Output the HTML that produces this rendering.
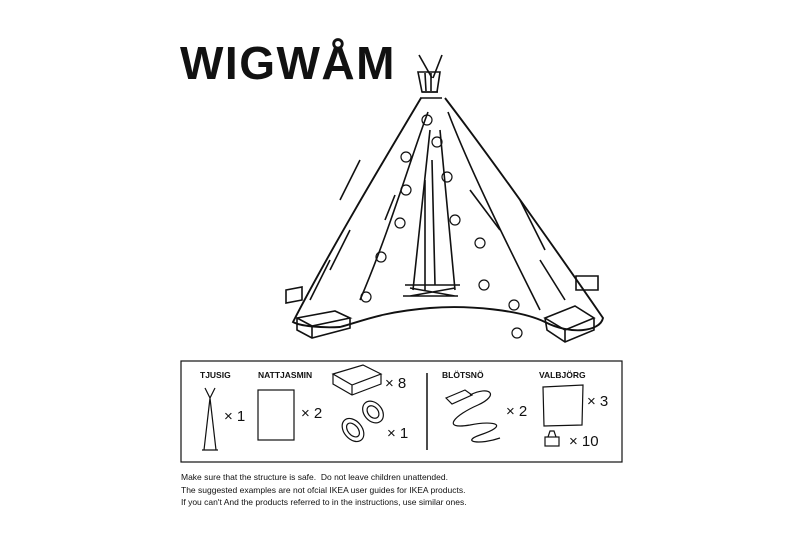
<!DOCTYPE html>
<html><head><style>
body{margin:0;background:#fff;width:800px;height:533px;overflow:hidden;position:relative;font-family:"Liberation Sans",sans-serif;}
.t{position:absolute;color:#111;}
</style></head><body>
<div class="t" style="left:180px;top:36px;font-size:46px;font-weight:bold;letter-spacing:1.5px;">WIGWÅM</div>
<svg width="800" height="533" style="position:absolute;left:0;top:0" fill="none" stroke="#111" stroke-width="1.6">
<line x1="419" y1="55" x2="432" y2="78"/><line x1="442" y1="55" x2="433" y2="78"/>
<path d="M418 72 L440 72 L437 92 L422 92 Z M425 73 L426 91 M431 73 L431 91"/>
<path d="M422 92 L438 92 M420 98 L442 98"/>
<path d="M421 98 C390 150 330 250 293 322 C300 326 320 328 340 327 C360 322 380 312 430 308 C470 305 520 310 545 322 C570 335 600 332 603 318 C570 270 500 170 445 98" stroke-width="1.9"/>
<path d="M428 112 C410 160 390 230 360 300"/>
<path d="M448 112 C470 170 510 250 540 310"/>
<path d="M430 130 L413 290 M440 130 L455 290"/>
<path d="M425 180 L425 290 M432 160 L435 285"/>
<path d="M405 285 L460 285 M403 296 L458 296 M410 288 L455 296 M455 288 L410 296"/>
<path d="M330 270 L350 230 M340 200 L360 160 M520 200 L545 250 M540 260 L565 300 M470 190 L500 230 M310 300 L330 260 M385 220 L395 195"/>
<g stroke-width="1.2">
<circle cx="427" cy="120" r="5"/><circle cx="406" cy="157" r="5"/><circle cx="437" cy="142" r="5"/><circle cx="406" cy="190" r="5"/><circle cx="447" cy="177" r="5"/><circle cx="400" cy="223" r="5"/><circle cx="455" cy="220" r="5"/><circle cx="381" cy="257" r="5"/><circle cx="480" cy="243" r="5"/><circle cx="366" cy="297" r="5"/><circle cx="484" cy="285" r="5"/><circle cx="514" cy="305" r="5"/><circle cx="517" cy="333" r="5"/>
</g>
<path d="M297 318 L335 311 L350 318 L312 326 Z M297 318 L297 330 L312 338 L350 328 L350 318 M312 326 L312 338"/>
<path d="M286 290 L302 287 L302 300 L286 303 Z"/>
<path d="M545 318 L575 306 L594 318 L565 330 Z M545 318 L547 330 L565 342 L594 330 L594 318 M565 330 L565 342"/>
<path d="M576 276 L598 276 L598 290 L576 290 Z"/>
<rect x="181" y="361" width="441" height="101" stroke-width="1.2"/>
<line x1="427" y1="373" x2="427" y2="450" stroke-width="1.5"/>
<path d="M205 388 L210 398 L215 388 M210 398 L204 450 M210 398 L216 450 M202 450 L218 450" stroke-width="1.2"/>
<rect x="258" y="390" width="36" height="50" stroke-width="1.2"/>
<path d="M333 374 L363 365 L381 374 L352 385 Z M333 374 L333 384 L352 395 L381 384 L381 374 M352 385 L352 395" stroke-width="1.2"/>
<g stroke-width="1.2">
<ellipse cx="353" cy="430" rx="9" ry="13" transform="rotate(-40 353 430)"/><ellipse cx="373" cy="412" rx="9" ry="12" transform="rotate(-40 373 412)"/>
<ellipse cx="353" cy="430" rx="5" ry="8" transform="rotate(-40 353 430)"/><ellipse cx="373" cy="412" rx="5" ry="7" transform="rotate(-40 373 412)"/>
<path d="M446 398 L465 390 L472 395 L452 404 Z"/>
<path d="M470 395 C490 385 500 395 478 405 C455 415 440 430 470 425 C495 420 510 425 480 435 C460 442 480 445 500 438"/>
<path d="M543 387 L583 385 L582 425 L544 426 Z"/>
<rect x="545" y="437" width="14" height="9"/><path d="M548 437 L550 431 L554 431 L556 437"/>
</g>
</svg>
<div class="t" style="left:200px;top:370px;font-size:8.5px;font-weight:bold">TJUSIG</div>
<div class="t" style="left:258px;top:370px;font-size:8.5px;font-weight:bold">NATTJASMIN</div>
<div class="t" style="left:442px;top:370px;font-size:8.5px;font-weight:bold">BLÖTSNÖ</div>
<div class="t" style="left:539px;top:370px;font-size:8.5px;font-weight:bold">VALBJÖRG</div>
<div class="t" style="left:224px;top:408px;font-size:15px">× 1</div>
<div class="t" style="left:301px;top:405px;font-size:15px">× 2</div>
<div class="t" style="left:385px;top:375px;font-size:15px">× 8</div>
<div class="t" style="left:387px;top:425px;font-size:15px">× 1</div>
<div class="t" style="left:506px;top:403px;font-size:15px">× 2</div>
<div class="t" style="left:587px;top:393px;font-size:15px">× 3</div>
<div class="t" style="left:569px;top:433px;font-size:15px">× 10</div>
<div class="t" style="left:181px;top:471px;font-size:8.5px;line-height:12.5px">Make sure that the structure is safe.&nbsp; Do not leave children unattended.<br>The suggested examples are not ofcial IKEA user guides for IKEA products.<br>If you can't And the products referred to in the instructions, use similar ones.</div>
</body></html>
